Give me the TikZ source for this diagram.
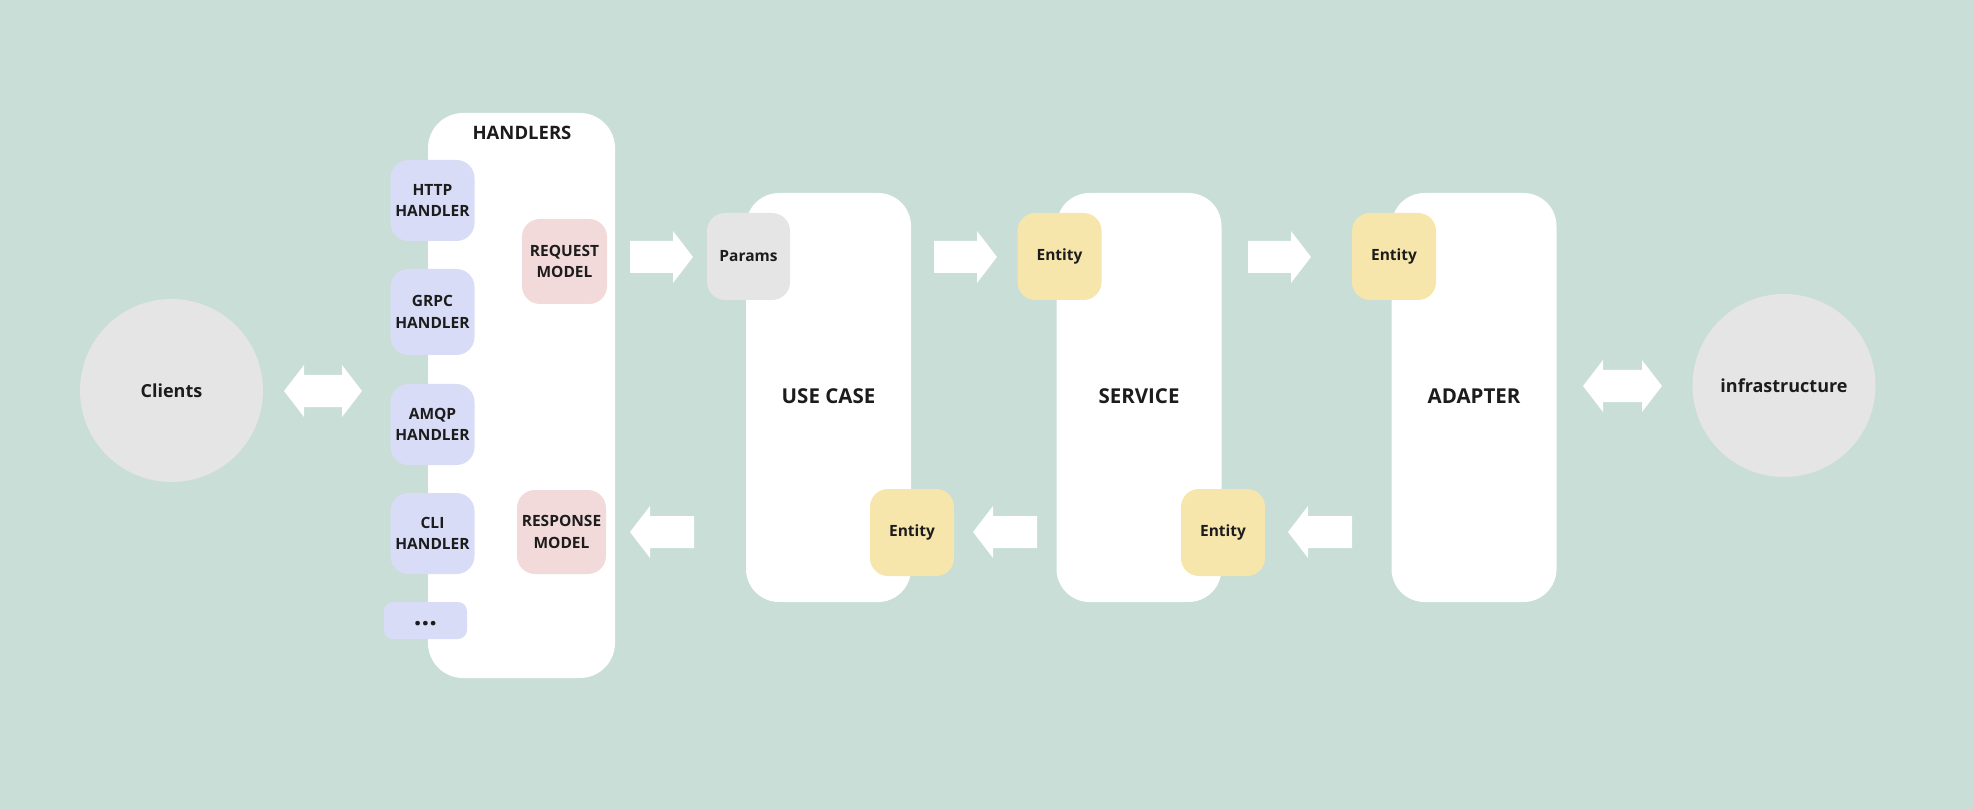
\documentclass[tikz,border=0pt]{standalone}
\usepackage{fontspec}
\setmainfont{Open Sans}
\definecolor{bgc}{HTML}{C8DED7}
\definecolor{lav}{HTML}{D9DCF7}
\definecolor{pinkc}{HTML}{F2DADB}
\definecolor{yel}{HTML}{F7E6AB}
\definecolor{greyc}{HTML}{E5E5E5}
\definecolor{txt}{HTML}{1C1C1C}
\newcommand\rblk[3]{\fill[white] (#1,#3-16) -- (#2-20,#3-16) -- (#2-20,#3-26) -- (#2,#3) -- (#2-20,#3+26) -- (#2-20,#3+16) -- (#1,#3+16) -- cycle;}
\newcommand\lblk[3]{\fill[white] (#2,#3-16) -- (#1+20,#3-16) -- (#1+20,#3-26) -- (#1,#3) -- (#1+20,#3+26) -- (#1+20,#3+16) -- (#2,#3+16) -- cycle;}
\newcommand\dblk[3]{\fill[white] (#1,#3) -- (#1+20,#3-26) -- (#1+20,#3-16) -- (#2-20,#3-16) -- (#2-20,#3-26) -- (#2,#3) -- (#2-20,#3+26) -- (#2-20,#3+16) -- (#1+20,#3+16) -- (#1+20,#3+26) -- cycle;}
\tikzset{
  big/.style={fill=white, rounded corners=33pt, minimum width=165pt, minimum height=409pt, inner sep=0pt},
  bigtxt/.style={text=txt, font=\fontsize{20.5}{24}\selectfont\bfseries},
  small/.style={rounded corners=18pt, minimum width=84pt, minimum height=86pt, inner sep=0pt, align=center, text=txt, font=\fontsize{15.5}{21.3}\selectfont\bfseries},
  hbox/.style={small, fill=lav, minimum height=81pt},
  ent/.style={small, fill=yel, minimum height=87pt},
  circ/.style={circle, fill=greyc, minimum size=183pt, inner sep=0pt, text=txt, font=\fontsize{18}{22}\selectfont\bfseries},
}
\begin{document}
\begin{tikzpicture}[x=1pt,y=-1pt]
\fill[bgc] (0,0) rectangle (1974,810);
\useasboundingbox (0,0) rectangle (1974,810);
% big containers
\node[big, minimum width=187pt, minimum height=565pt, rounded corners=35pt] (handlers) at (521.5,395.5) {};
\node[text=txt, font=\fontsize{18.5}{22}\selectfont\bfseries] (htitle) at (522,133) {HANDLERS};
\node[big] (usecase) at (828.5,397.5) {};
\node[bigtxt] (uct) at (828.5,396) {USE CASE};
\node[big] (service) at (1139,397.5) {};
\node[bigtxt] (svt) at (1139,396) {SERVICE};
\node[big] (adapter) at (1474,397.5) {};
\node[bigtxt] (adt) at (1474,396) {ADAPTER};
% handlers
\node[hbox] (http) at (432.5,200.5) {HTTP\\HANDLER};
\node[hbox, minimum height=86pt] (grpc) at (432.5,312) {GRPC\\HANDLER};
\node[hbox] (amqp) at (432.5,424.5) {AMQP\\HANDLER};
\node[hbox] (cli) at (432.5,533.5) {CLI\\HANDLER};
\node[hbox, minimum height=37pt, minimum width=83pt, rounded corners=9pt, font=\fontsize{27}{27}\selectfont\bfseries] (dots) at (425.5,620.5) {\raisebox{-11pt}{...}};
% models
\node[small, fill=pinkc, minimum width=85pt, minimum height=85pt] (req) at (564.5,261.5) {REQUEST\\MODEL};
\node[small, fill=pinkc, minimum width=89pt, minimum height=84pt] (resp) at (561.5,532) {RESPONSE\\MODEL};
% params / entities
\node[small, fill=greyc, minimum width=83pt, minimum height=87pt] (params) at (748.5,256.5) {Params};
\node[ent] (ent1) at (1059.5,256.5) {Entity};
\node[ent] (ent2) at (1394,256.5) {Entity};
\node[ent] (ent3) at (912,532.5) {Entity};
\node[ent] (ent4) at (1223,532.5) {Entity};
% circles
\node[circ] (clients) at (171.5,390.5) {Clients};
\node[circ] (infra) at (1784,385.5) {infrastructure};
% block arrows
\rblk{630}{693}{257}
\rblk{934}{997}{257}
\rblk{1248}{1311}{257}
\lblk{630}{694}{532}
\lblk{973}{1037}{532}
\lblk{1288}{1352}{532}
\dblk{284}{362}{391}
\dblk{1583}{1662}{386}
\end{tikzpicture}
\end{document}
